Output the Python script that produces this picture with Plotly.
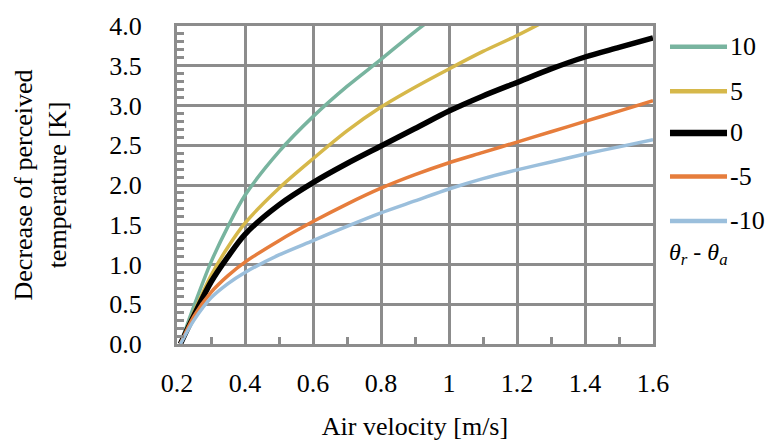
import plotly.graph_objects as go

# Air velocity [m/s]
velocity = [0.21, 0.25, 0.3, 0.35, 0.4, 0.5, 0.6, 0.7, 0.8, 0.9, 1.0, 1.1, 1.2, 1.3, 1.4, 1.5, 1.6]

# Decrease of perceived temperature [K] for each temperature difference θr - θa
dt_plus10 = [0, 0.48, 1.03, 1.48, 1.87, 2.42, 2.86, 3.24, 3.58, 3.93, 4.25, None, None, None, None, None, None]
dt_plus5 = [0, 0.40, 0.86, 1.22, 1.52, 1.96, 2.33, 2.68, 2.98, 3.23, 3.46, 3.68, 3.88, 4.10, None, None, None]
dt_zero = [0, 0.36, 0.78, 1.10, 1.38, 1.75, 2.03, 2.27, 2.49, 2.71, 2.93, 3.12, 3.29, 3.46, 3.61, 3.73, 3.85]
dt_minus5 = [0, 0.35, 0.65, 0.86, 1.03, 1.30, 1.54, 1.76, 1.96, 2.13, 2.28, 2.41, 2.54, 2.67, 2.80, 2.93, 3.06]
dt_minus10 = [0, 0.30, 0.58, 0.76, 0.90, 1.12, 1.30, 1.48, 1.65, 1.80, 1.95, 2.08, 2.19, 2.29, 2.39, 2.48, 2.57]

series_names = ["10", "5", "0", "-5", "-10"]
series_values = [dt_plus10, dt_plus5, dt_zero, dt_minus5, dt_minus10]
series_colors = ["#78b49f", "#d6b84a", "#000000", "#e67d3c", "#9bbfdc"]
series_widths = [3.5, 3.5, 5.5, 3.5, 3.5]

x_ticks = [0.2, 0.4, 0.6, 0.8, 1.0, 1.2, 1.4, 1.6]
y_ticks = [0.0, 0.5, 1.0, 1.5, 2.0, 2.5, 3.0, 3.5, 4.0]

# small inner ticks halfway between the x gridlines and every 0.1 K on the y axis
x_small = [round((a + b) / 2, 2) for a, b in zip(x_ticks[:-1], x_ticks[1:])]
y_small = [round(a + k * 0.1, 2) for a in y_ticks[:-1] for k in range(1, 5)]

FONT = "Liberation Serif"
GRID = "#8c8c8c"
CLEAR = "rgba(0,0,0,0)"
txt = dict(family=FONT, size=26)

fig = go.Figure()
for name, vals, color, width in zip(series_names, series_values, series_colors, series_widths):
    fig.add_trace(go.Scatter(
        x=velocity, y=vals, name=name, mode="lines",
        line=dict(color=color, width=width, shape="spline", smoothing=0.8),
        connectgaps=False, showlegend=False,
    ))
# empty trace that carries the overlay axes used for the small ticks
fig.add_trace(go.Scatter(x=[None], y=[None], xaxis="x2", yaxis="y2",
                         showlegend=False, hoverinfo="skip"))

# Hand-drawn legend to the right of the plot area
legend_x0, legend_x1 = 1.0357, 1.1555
legend_rows = [0.9345, 0.7946, 0.6637, 0.5268, 0.3869]
for name, color, width, yy in zip(series_names, series_colors, series_widths, legend_rows):
    fig.add_shape(type="line", xref="paper", yref="paper",
                  x0=legend_x0, x1=legend_x1, y0=yy, y1=yy,
                  line=dict(color=color, width=width + 1))
    fig.add_annotation(xref="paper", yref="paper", x=legend_x1 + 0.002, y=yy,
                       text=name, showarrow=False, xanchor="left", yanchor="middle",
                       font=txt)
fig.add_annotation(xref="paper", yref="paper", x=1.03, y=0.2827,
                   text="<i>θ<sub>r</sub></i> - <i>θ<sub>a</sub></i>", showarrow=False,
                   xanchor="left", yanchor="middle",
                   font=dict(family=FONT, size=24))

fig.update_layout(
    width=770, height=448,
    margin=dict(l=177, r=117, t=24, b=88),
    paper_bgcolor="white", plot_bgcolor="white",
    font=dict(family=FONT, size=26, color="black"),
    xaxis=dict(
        range=[0.2, 1.6], tickvals=x_ticks, ticktext=[f"{v:g}" for v in x_ticks],
        tickfont=txt,
        showgrid=True, gridcolor=GRID, gridwidth=3,
        showline=True, linecolor=GRID, linewidth=3, mirror=True,
        ticks="outside", ticklen=14, tickcolor=CLEAR,
        title=dict(text="Air velocity [m/s]", standoff=20, font=txt),
        zeroline=False,
    ),
    yaxis=dict(
        range=[0, 4.0], tickvals=y_ticks, ticktext=[f"{v:.1f}" for v in y_ticks],
        tickfont=txt,
        showgrid=True, gridcolor=GRID, gridwidth=3,
        showline=True, linecolor=GRID, linewidth=3, mirror=True,
        ticks="outside", ticklen=27, tickcolor=CLEAR,
        title=dict(text="Decrease of perceived<br>temperature [K]", standoff=36, font=txt),
        zeroline=False,
    ),
    xaxis2=dict(
        overlaying="x", anchor="y", side="bottom", range=[0.2, 1.6],
        tickvals=x_small, ticks="inside", ticklen=7, tickwidth=3, tickcolor=GRID,
        showticklabels=False, showgrid=False, showline=False, zeroline=False,
    ),
    yaxis2=dict(
        overlaying="y", anchor="x", side="left", range=[0, 4.0],
        tickvals=y_small, ticks="inside", ticklen=7, tickwidth=3, tickcolor=GRID,
        showticklabels=False, showgrid=False, showline=False, zeroline=False,
    ),
)

fig.write_html("out.html")
